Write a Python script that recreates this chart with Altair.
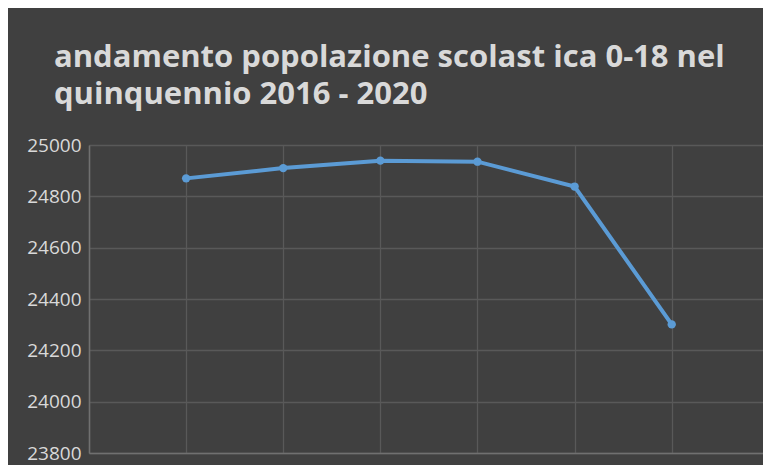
import altair as alt
import pandas as pd

years = [1, 2, 3, 4, 5, 6]
popolazione = [24870, 24910, 24939, 24935, 24838, 24301]
y_ticks = [23800, 24000, 24200, 24400, 24600, 24800, 25000]
x_grid = [0, 1, 2, 3, 4, 5, 6, 7]
title_lines = ["andamento popolazione scolast ica  0-18 nel", "quinquennio 2016 - 2020"]

df = pd.DataFrame({"x": years, "y": popolazione})

FONT = "Open Sans"
TXT = "#d9d9d9"

x_enc = alt.X("x:Q", scale=alt.Scale(domain=[0, 6.94], nice=False, zero=False),
              axis=alt.Axis(values=x_grid, labels=False, ticks=False, title=None,
                            grid=True, gridColor="#595959", gridWidth=1.3,
                            domainColor="#707070", domainWidth=1.5))
y_enc = alt.Y("y:Q", scale=alt.Scale(domain=[23800, 25000], nice=False, zero=False),
              axis=alt.Axis(values=y_ticks, title=None, ticks=False, labelPadding=8,
                            labelFont=FONT, labelFontSize=19, labelColor=TXT,
                            grid=True, gridColor="#595959", gridWidth=1.3,
                            domainColor="#707070", domainWidth=1.5, format="d"))

line = alt.Chart(df).mark_line(color="#5b9bd5", strokeWidth=4).encode(x=x_enc, y=y_enc)
pts = alt.Chart(df).mark_point(filled=True, color="#5b9bd5", size=70, opacity=1).encode(x="x:Q", y="y:Q")

chart = (line + pts).properties(
    width=674, height=308,
    background="#404040",
    padding={"left": 81, "top": 137, "right": 0, "bottom": 12},
    autosize=alt.AutoSizeParams(type="none"),
    title=alt.TitleParams(text=title_lines, anchor="start", frame="group", dx=-35,
                          font=FONT, fontSize=31, fontWeight="bold", color=TXT,
                          lineHeight=37, offset=25),
).configure_view(stroke=None, fill="#404040")

chart.save("out.html", embed_options={"renderer": "svg", "actions": False})
